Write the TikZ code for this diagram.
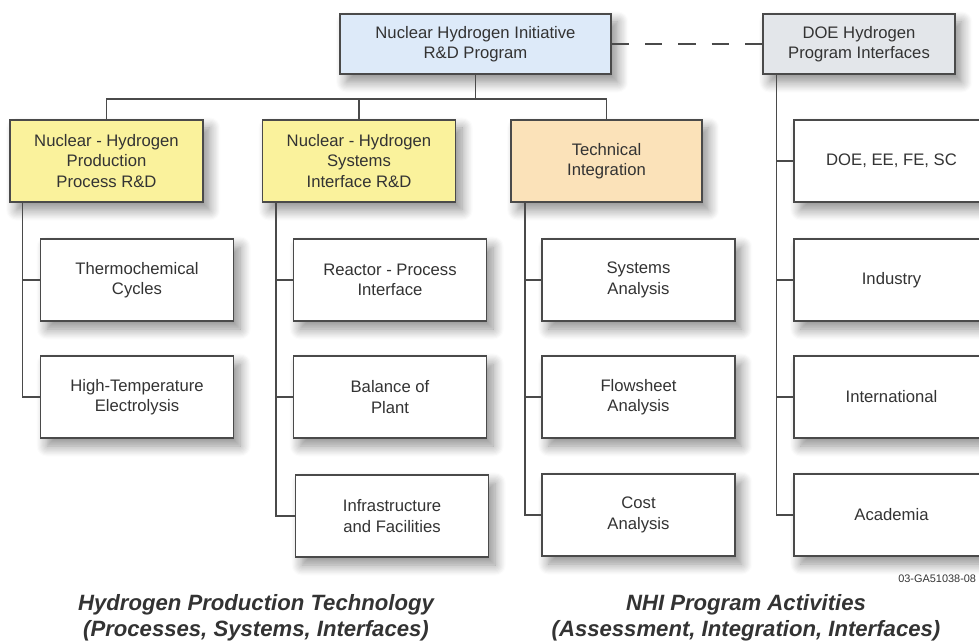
\documentclass[tikz,border=0pt]{standalone}
\usepackage{fontspec}
\setmainfont{Liberation Sans}
\usetikzlibrary{calc,positioning,shadows.blur}
\definecolor{boxline}{HTML}{4A4A4A}
\definecolor{textgray}{HTML}{333333}
\definecolor{nhiblue}{HTML}{DDEAF9}
\definecolor{doegray}{HTML}{E3E6EA}
\definecolor{rdyellow}{HTML}{FAF29C}
\definecolor{techorange}{HTML}{FBE2B9}
\tikzset{
  box/.style={draw=boxline, line width=1.1pt, fill=white, align=center, text=textgray,
    inner sep=0pt, font=\fontsize{12.5}{15.4}\selectfont,
    blur shadow={shadow xshift=5pt, shadow yshift=-6pt, shadow blur radius=8pt, shadow blur steps=10, shadow opacity=45}},
  headbox/.style={box, minimum width=144pt, minimum height=45pt},
  areabox/.style={box, minimum width=144.75pt, minimum height=61.5pt},
  subbox/.style={box, minimum width=144.75pt, minimum height=61.5pt},
  link/.style={draw=boxline, line width=1.1pt},
  caption/.style={align=center, text=textgray, font=\fontsize{16.6}{19.5}\selectfont\bfseries\itshape}
}
\begin{document}
\begin{tikzpicture}[x=0.75pt, y=-0.75pt]
      \useasboundingbox (0, 0) rectangle (979, 641);

      \node (nhi) at (475.5, 44) [headbox, minimum width=203.25pt, fill=nhiblue] {Nuclear Hydrogen Initiative\\R\&D Program};
      \node (doe) at (859, 44) [headbox, fill=doegray] {DOE Hydrogen\\Program Interfaces};

      \node (prod) at (106.5, 161) [areabox, fill=rdyellow] {Nuclear - Hydrogen\\Production\\Process R\&D};
      \node (sys) at (359, 161) [areabox, fill=rdyellow] {Nuclear - Hydrogen\\Systems\\Interface R\&D};
      \node (tech) at (606.5, 161) [areabox, minimum width=143.25pt, fill=techorange] {Technical\\Integration};
      \node (doeee) at (891.5, 161) [subbox, minimum width=146.25pt] {DOE, EE, FE, SC};

      \node (thermo) at (137, 280) [subbox] {Thermochemical\\Cycles};
      \node (hte) at (137, 397) [subbox] {High-Temperature\\Electrolysis};

      \node (rpi) at (390, 280) [subbox] {Reactor - Process\\Interface};
      \node (bop) at (390, 397) [subbox] {Balance of\\Plant};
      \node (infra) at (392, 516) [subbox] {Infrastructure\\and Facilities};

      \node (sa) at (638.5, 280) [subbox] {Systems\\Analysis};
      \node (fa) at (638.5, 397) [subbox] {Flowsheet\\Analysis};
      \node (ca) at (638.5, 515) [subbox] {Cost\\Analysis};

      \node (ind) at (891.5, 280) [subbox, minimum width=146.25pt] {Industry};
      \node (intl) at (891.5, 397) [subbox, minimum width=146.25pt] {International};
      \node (acad) at (891.5, 515) [subbox, minimum width=146.25pt] {Academia};

      \coordinate (bar) at (475.5, 99);
      \coordinate (s1) at ([xshift=10pt]prod.south west);
      \coordinate (s2) at ([xshift=10.5pt]sys.south west);
      \coordinate (s3) at ([xshift=11pt]tech.south west);
      \coordinate (s4) at ([xshift=10.5pt]doe.south west);

      \draw [link] (nhi.south) -- (bar);
      \draw [link] (prod.north) |- (bar) -| (tech.north);
      \draw [link] (sys.north) -- (sys.north |- bar);
      \draw [link, dash pattern=on 13pt off 12pt] (nhi.east) -- (doe.west);

      \draw [link] (s1) |- (hte.west);
      \draw [link] (thermo.west) -- (thermo.west -| s1);
      \draw [link] (s2) |- (infra.west);
      \draw [link] (rpi.west) -- (rpi.west -| s2);
      \draw [link] (bop.west) -- (bop.west -| s2);
      \draw [link] (s3) |- (ca.west);
      \draw [link] (sa.west) -- (sa.west -| s3);
      \draw [link] (fa.west) -- (fa.west -| s3);
      \draw [link] (s4) |- (acad.west);
      \draw [link] (doeee.west) -- (doeee.west -| s4);
      \draw [link] (ind.west) -- (ind.west -| s4);
      \draw [link] (intl.west) -- (intl.west -| s4);

      \node (tag) at (898, 579) [anchor=west, text=textgray, inner sep=0pt, font=\fontsize{8.2}{9}\selectfont] {03-GA51038-08};
      \node (cap1) at (256, 618) [caption] {Hydrogen Production Technology\\(Processes, Systems, Interfaces)};
      \node (cap2) at (746, 618) [caption] {NHI Program Activities\\(Assessment, Integration, Interfaces)};
    \end{tikzpicture}
\end{document}
